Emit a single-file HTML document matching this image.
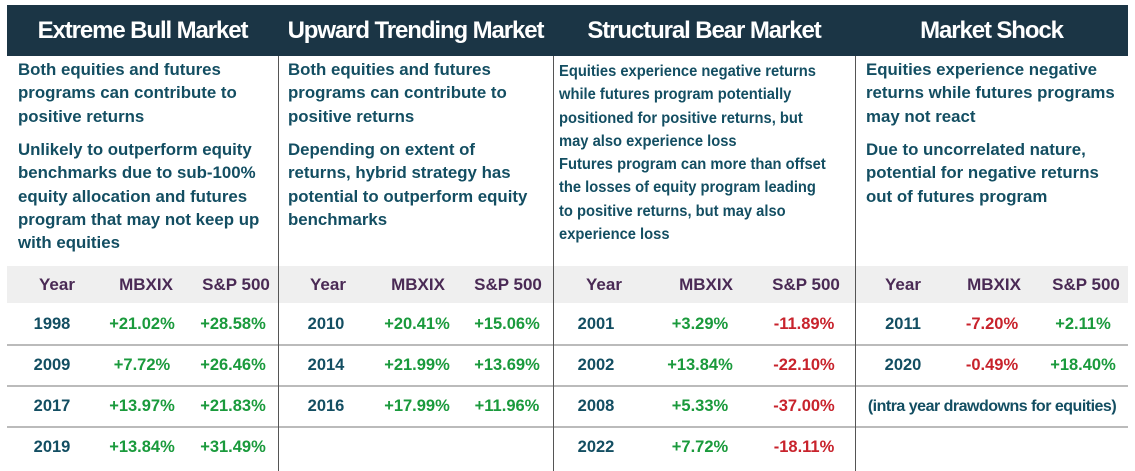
<!DOCTYPE html>
<html><head><meta charset="utf-8"><style>
*{margin:0;padding:0;box-sizing:border-box}
body{width:1135px;height:471px;background:#fff;position:relative;overflow:hidden;font-family:"Liberation Sans",sans-serif}
.abs{position:absolute}
.hdr{left:7px;top:5px;width:1121px;height:51px;background:#1b3545}
.ht{position:absolute;top:5px;height:51px;line-height:51px;color:#fff;font-weight:bold;font-size:24px;letter-spacing:-1.1px;text-align:center;white-space:nowrap}
.vl{position:absolute;top:56px;bottom:0;width:1px;background:#555}
.band{left:7px;top:266px;width:1121px;height:37px;background:#efefef}
.hl{position:absolute;height:2px;background:#bbb}
.p{position:absolute;color:#134e62;font-weight:bold;font-size:17px;line-height:23.3px;white-space:nowrap;transform:scaleX(0.99);transform-origin:left top}
.p.s{font-size:15.5px;transform:scaleX(0.95)}
.th{position:absolute;top:266px;height:37px;line-height:37px;color:#4a2a55;font-weight:bold;font-size:17px;text-align:center;white-space:nowrap;width:100px;margin-left:-50px}
.c{position:absolute;height:41px;line-height:41px;font-weight:bold;font-size:16.5px;text-align:center;width:110px;margin-left:-55px;white-space:nowrap}
.y{color:#134e62}.g{color:#1a9a3c}.r{color:#c8232c}
</style></head><body>
<div class="abs hdr"></div>
<div class="ht" style="left:7px;width:271px">Extreme Bull Market</div>
<div class="ht" style="left:278px;width:275px">Upward Trending Market</div>
<div class="ht" style="left:553px;width:302px">Structural Bear Market</div>
<div class="ht" style="left:855px;width:273px">Market Shock</div>

<div class="abs band"></div>
<div class="hl" style="left:7px;width:1121px;top:344px"></div>
<div class="hl" style="left:7px;width:1121px;top:385px"></div>
<div class="hl" style="left:7px;width:1121px;top:426px"></div>
<div class="vl" style="left:278px"></div>
<div class="vl" style="left:553px"></div>
<div class="vl" style="left:855px"></div>

<div class="p" style="left:18px;top:58px">Both equities and futures<br>programs can contribute to<br>positive returns</div>
<div class="p" style="left:18px;top:138px">Unlikely to outperform equity<br>benchmarks due to sub-100%<br>equity allocation and futures<br>program that may not keep up<br>with equities</div>
<div class="p" style="left:288px;top:58px">Both equities and futures<br>programs can contribute to<br>positive returns</div>
<div class="p" style="left:288px;top:138px">Depending on extent of<br>returns, hybrid strategy has<br>potential to outperform equity<br>benchmarks</div>
<div class="p s" style="left:559px;top:60px">Equities experience negative returns<br>while futures program potentially<br>positioned for positive returns, but<br>may also experience loss</div>
<div class="p s" style="left:559px;top:153px">Futures program can more than offset<br>the losses of equity program leading<br>to positive returns, but may also<br>experience loss</div>
<div class="p" style="left:866px;top:58px">Equities experience negative<br>returns while futures programs<br>may not react</div>
<div class="p" style="left:866px;top:138px">Due to uncorrelated nature,<br>potential for negative returns<br>out of futures program</div>

<div class="th" style="left:57px">Year</div><div class="th" style="left:146px">MBXIX</div><div class="th" style="left:236px">S&amp;P 500</div>
<div class="th" style="left:328px">Year</div><div class="th" style="left:418px">MBXIX</div><div class="th" style="left:508px">S&amp;P 500</div>
<div class="th" style="left:604px">Year</div><div class="th" style="left:706px">MBXIX</div><div class="th" style="left:806px">S&amp;P 500</div>
<div class="th" style="left:903px">Year</div><div class="th" style="left:994px">MBXIX</div><div class="th" style="left:1086px">S&amp;P 500</div>

<div class="c y" style="left:52px;top:304px">1998</div><div class="c g" style="left:142px;top:304px">+21.02%</div><div class="c g" style="left:233px;top:304px">+28.58%</div>
<div class="c y" style="left:52px;top:345px">2009</div><div class="c g" style="left:142px;top:345px">+7.72%</div><div class="c g" style="left:233px;top:345px">+26.46%</div>
<div class="c y" style="left:52px;top:386px">2017</div><div class="c g" style="left:142px;top:386px">+13.97%</div><div class="c g" style="left:233px;top:386px">+21.83%</div>
<div class="c y" style="left:52px;top:427px">2019</div><div class="c g" style="left:142px;top:427px">+13.84%</div><div class="c g" style="left:233px;top:427px">+31.49%</div>

<div class="c y" style="left:326px;top:304px">2010</div><div class="c g" style="left:417px;top:304px">+20.41%</div><div class="c g" style="left:507px;top:304px">+15.06%</div>
<div class="c y" style="left:326px;top:345px">2014</div><div class="c g" style="left:417px;top:345px">+21.99%</div><div class="c g" style="left:507px;top:345px">+13.69%</div>
<div class="c y" style="left:326px;top:386px">2016</div><div class="c g" style="left:417px;top:386px">+17.99%</div><div class="c g" style="left:507px;top:386px">+11.96%</div>

<div class="c y" style="left:596px;top:304px">2001</div><div class="c g" style="left:700px;top:304px">+3.29%</div><div class="c r" style="left:804px;top:304px">-11.89%</div>
<div class="c y" style="left:596px;top:345px">2002</div><div class="c g" style="left:700px;top:345px">+13.84%</div><div class="c r" style="left:804px;top:345px">-22.10%</div>
<div class="c y" style="left:596px;top:386px">2008</div><div class="c g" style="left:700px;top:386px">+5.33%</div><div class="c r" style="left:804px;top:386px">-37.00%</div>
<div class="c y" style="left:596px;top:427px">2022</div><div class="c g" style="left:700px;top:427px">+7.72%</div><div class="c r" style="left:804px;top:427px">-18.11%</div>

<div class="c y" style="left:903px;top:304px">2011</div><div class="c r" style="left:992px;top:304px">-7.20%</div><div class="c g" style="left:1083px;top:304px">+2.11%</div>
<div class="c y" style="left:903px;top:345px">2020</div><div class="c r" style="left:992px;top:345px">-0.49%</div><div class="c g" style="left:1083px;top:345px">+18.40%</div>
<div class="c y" style="left:992px;top:386px;width:260px;margin-left:-130px;font-size:16px;letter-spacing:-0.5px">(intra year drawdowns for equities)</div>
</body></html>
